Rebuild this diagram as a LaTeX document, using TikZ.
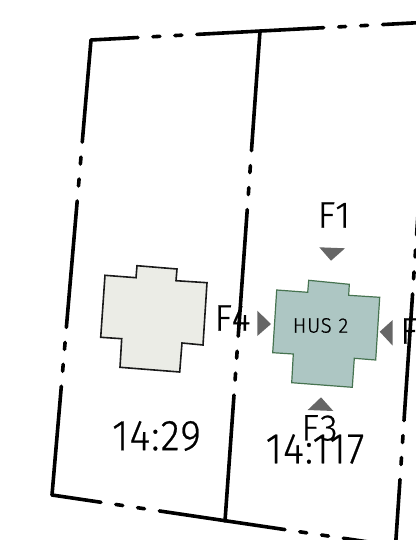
\documentclass[tikz,border=0pt]{standalone}
\usepackage{fontspec}
\setmainfont{Fira Sans}[UprightFont={* Light},LetterSpace=3,FakeBold=0.6]

\definecolor{housegrey}{RGB}{235,236,230}
\definecolor{housegreen}{RGB}{173,198,195}
\definecolor{edgegreen}{RGB}{70,115,80}

\tikzset{
    parcel/.style={line width=3.6pt, line cap=round, line join=miter, black,
        dash pattern=on 127pt off 15pt on 7pt off 15pt on 7pt off 15pt},
    house/.style={line join=miter},
    view/.style={fill=black!60, draw=none},
    bigtext/.style={font=\fontsize{43}{43}\selectfont, xscale=.92, inner sep=0pt},
    viewtext/.style={font=\fontsize{37}{37}\selectfont, xscale=.98, inner sep=0pt},
}

\begin{document}
\begin{tikzpicture}[x=1pt, y=-1pt]

    \useasboundingbox (0, 0) rectangle (415, 540);

    % Corners of the parcels
    \coordinate (tl) at (91, 40);
    \coordinate (tm) at (260, 31);
    \coordinate (tr) at (431, 22);
    \coordinate (bl) at (52, 495);
    \coordinate (bm) at (225, 521);
    \coordinate (br) at (395.5, 546);

    % Houses
    \draw[house, line width=1.6pt, draw=black!90, fill=housegrey]
        (105, 275.3) -- (136, 277.7) -- (137, 265.7) -- (177, 269) -- (176, 280.7)
        -- (207, 282.7) -- (203, 345) -- (182, 343) -- (179.7, 372) -- (120, 367.3)
        -- (121.7, 338.7) -- (100.7, 337.3) -- cycle;
    \draw[house, line width=1.2pt, draw=edgegreen, fill=housegreen]
        (276.7, 290) -- (307.7, 292.3) -- (308.7, 280.3) -- (349.3, 284.3) -- (348.7, 295.3)
        -- (379.7, 297.3) -- (375.7, 360) -- (354.3, 358.3) -- (352.3, 387.3) -- (291.7, 382.7)
        -- (293.3, 354) -- (272.7, 352.7) -- cycle;

    % Parcel lines
    \draw[parcel, dash phase=80pt] (tl) -- (tr);
    \draw[parcel, dash phase=24.5pt] (tl) -- (bl);
    \draw[parcel, dash phase=7pt] (tm) -- (bm);
    \draw[parcel, dash phase=77.5pt] (bl) -- (br);
    \draw[parcel, dash phase=99.5pt] (tr) -- (br);

    % View markers
    \fill[view] (319.3, 247.3) -- (345, 248.3) -- (331, 260.7) -- cycle;
    \fill[view] (392.7, 320) -- (392.7, 345.7) -- (379.7, 331.7) -- cycle;
    \fill[view] (307.7, 410) -- (333.3, 411) -- (321, 397.3) -- cycle;
    \fill[view] (257.3, 310.7) -- (257.3, 336) -- (271, 324) -- cycle;

    % Labels
    \node[viewtext] (fa) at (334, 215) {F1};
    \node[viewtext, anchor=west] (fb) at (400, 331) {F2};
    \node[viewtext] (fc) at (319.5, 428) {F3};
    \node[viewtext] (fd) at (232.5, 318) {F4};
    \node[bigtext] (lota) at (156.5, 436) {14:29};
    \node[bigtext] (lotb) at (315, 449) {14:117};
    \node[font=\fontsize{21}{21}\selectfont, xscale=.97, inner sep=0pt] (husb) at (320.5, 325.5) {HUS\,\,2};

\end{tikzpicture}
\end{document}
